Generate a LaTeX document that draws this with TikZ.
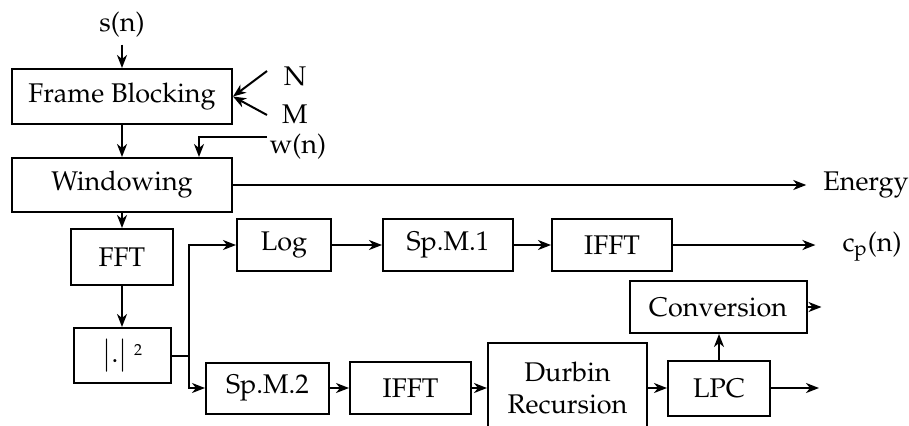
\documentclass[tikz,border=0pt]{standalone}
\usepackage[T1]{fontenc}
\usepackage{mathpazo}
\usetikzlibrary{arrows.meta,calc,positioning}

\begin{document}
\begin{tikzpicture}[x=0.5pt,y=-0.5pt,
  font=\fontsize{13.5}{16}\selectfont,
  blk/.style={draw,line width=1pt,inner sep=0pt,align=center},
  flow/.style={line width=1pt,-{Stealth[length=6.5pt,width=5pt,inset=2pt]}}]
  \useasboundingbox (0,0) rectangle (909,425);
  \clip (0,0) rectangle (909,425);

  % front end
  \node (sn) at (122,25) {s(n)};
  \node[blk,minimum width=110pt,minimum height=27.5pt] (frame) at (122,96.5) {Frame Blocking};
  \node (N) at (295,76) {N};
  \node (M) at (295,114) {M};
  \node (wn) at (298,147) {w(n)};
  \node[blk,minimum width=110pt,minimum height=27pt] (win) at (122,185) {Windowing};
  \node (energy) at (866,185) {Energy};

  \node[blk,minimum width=51pt,minimum height=28pt] (fft) at (122,257) {FFT};
  \node[blk,minimum width=48.5pt,minimum height=27.5pt] (mag) at (122,355.5)
    {$\big|\mathbf{.}\big|$\hspace{3pt}\raisebox{0.5ex}{\footnotesize 2}};

  % upper branch
  \node[blk,minimum width=47pt,minimum height=26pt] (log) at (284,245) {Log};
  \node[blk,minimum width=65pt,minimum height=26pt] (spma) at (448,245) {Sp.M.1};
  \node[blk,minimum width=60pt,minimum height=26pt] (iffta) at (612,245) {IFFT};
  \node (cp) at (872,247) {c\textsubscript{p}(n)};

  % lower branch
  \node[blk,minimum width=61.5pt,minimum height=25.5pt] (spmb) at (267.5,388) {Sp.M.2};
  \node[blk,minimum width=60.5pt,minimum height=26pt] (ifftb) at (410.5,388) {IFFT};
  \node[blk,minimum width=79.5pt,minimum height=45pt] (durbin) at (567.5,388) {Durbin\\Recursion};
  \node[blk,minimum width=51pt,minimum height=27.5pt] (lpc) at (719,388) {LPC};
  \node[blk,minimum width=88.5pt,minimum height=26pt] (conv) at (718,307) {Conversion};

  \coordinate (nin) at (267,71);
  \coordinate (min) at (267,115);
  \coordinate (win0) at (267,137);

  \draw[flow] (sn.south) -- (frame.north);
  \draw[flow] (nin) -- (frame.east);
  \draw[flow] (min) -- (frame.east);
  \draw[flow] (frame) -- (win);
  \draw[flow] (win0) -| ([xshift=38.5pt]win.north);
  \draw[flow,shorten >=5pt] (win.east) -- (energy.west);
  \draw[flow] (win) -- (fft);
  \draw[flow] (fft) -- (mag);

  \draw[flow] (mag.east) -- ++(17.5,0) |- (log.west);
  \draw[flow] (mag.east) -- ++(17.5,0) |- (spmb.west);
  \draw[flow] (log) -- (spma);
  \draw[flow] (spma) -- (iffta);
  \draw[flow,shorten >=10pt] (iffta.east) -- (iffta.east -| cp.west);

  \draw[flow] (spmb) -- (ifftb);
  \draw[flow] (ifftb) -- (durbin);
  \draw[flow] (durbin) -- (lpc);
  \draw[flow] (lpc.north) -- (lpc.north |- conv.south);
  \draw[flow] (conv.east) -- ++(14,0);
  \draw[flow] (lpc.east) -- ++(48,0);
\end{tikzpicture}
\end{document}
